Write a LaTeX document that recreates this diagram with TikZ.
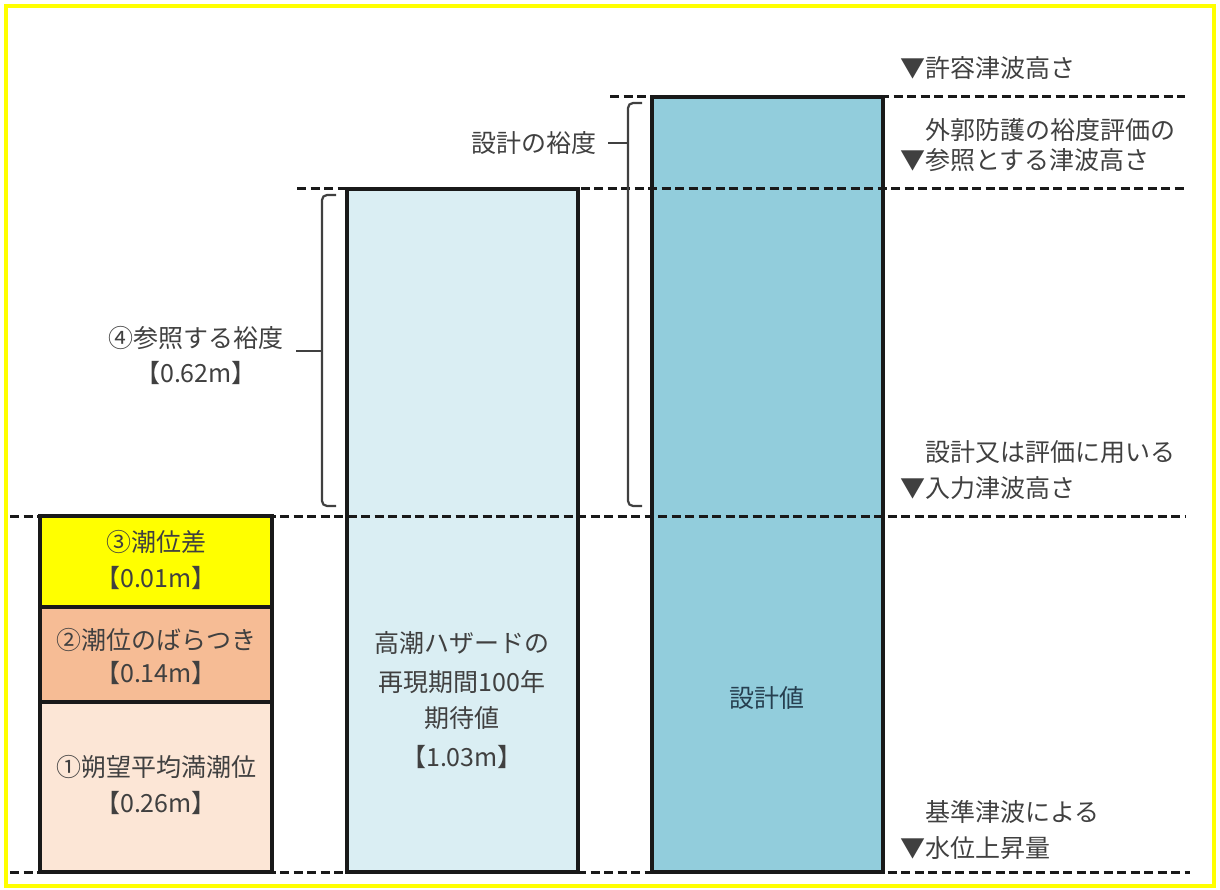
\documentclass[tikz,border=0pt]{standalone}
\usepackage{fontspec}
\newfontfamily\jpfont{Noto Sans CJK JP}
\usetikzlibrary{calc}

\definecolor{frameyellow}{HTML}{FFFF00}
\definecolor{tideyellow}{HTML}{FFFF00}
\definecolor{tideorange}{HTML}{F6BC95}
\definecolor{tidepeach}{HTML}{FCE6D6}
\definecolor{hazardblue}{HTML}{DAEEF3}
\definecolor{designblue}{HTML}{92CDDC}
\definecolor{labelgray}{HTML}{404040}
\definecolor{designtext}{HTML}{263F50}

\tikzset{
  box/.style={draw=black!90, line width=3.2pt},
  level/.style={draw=black!90, line width=3pt, dash pattern=on 9pt off 4.5pt},
  brace/.style={draw=labelgray, line width=2.2pt, rounded corners=5pt},
  lbl/.style={font=\jpfont\fontsize{25}{30}\selectfont, text=labelgray, inner sep=0pt}
}

\begin{document}
\begin{tikzpicture}[x=1pt, y=-1pt]
\useasboundingbox (0,0) rectangle (1220,890);
\draw[frameyellow, line width=4pt] (6,6) rectangle (1214,886);

% stacked tide components
\draw[box, fill=tidepeach] (40,702) rectangle (272,872);
\draw[box, fill=tideorange] (40,607) rectangle (272,702);
\draw[box, fill=tideyellow] (40,516) rectangle (272,607);

% hazard and design columns
\draw[box, fill=hazardblue] (347,189) rectangle (578,872);
\draw[box, fill=designblue] (652,97) rectangle (883,872);

% levels
\coordinate (TA) at (610,97);  \coordinate (TB) at (1185,97);
\coordinate (RA) at (297,189); \coordinate (RB) at (1185,189);
\coordinate (IA) at (10,516);  \coordinate (IB) at (1185,516);
\coordinate (BA) at (10,872);  \coordinate (BB) at (1190,872);
\draw[level] (TA) -- (TB);
\draw[level] (RA) -- (RB);
\draw[level] (IA) -- (IB);
\draw[level] (BA) -- (BB);

% braces
\draw[brace] (336,195) -- (322,195) -- (322,506) -- (336,506);
\draw[brace] (642,103) -- (628,103) -- (628,506) -- (642,506);
\coordinate (M1) at (296,351); \coordinate (M1b) at (322,351);
\coordinate (M2) at (608,143); \coordinate (M2b) at (628,143);
\draw[brace] (M1) -- (M1b);
\draw[brace] (M2) -- (M2b);

\node[lbl] (refm) at (196,338) {④参照する裕度};
\node[lbl] (refv) at (196,373) {【0.62m】};
\node[lbl, anchor=east] (desm) at (597,143) {設計の裕度};

% box texts
\node[lbl] (tide3) at (156,542) {③潮位差};
\node[lbl] (tide3v) at (156,578) {【0.01m】};
\node[lbl] (tide2) at (156,640) {②潮位のばらつき};
\node[lbl] (tide2v) at (156,673) {【0.14m】};
\node[lbl] (tide1) at (156,767) {①朔望平均満潮位};
\node[lbl] (tide1v) at (156,803) {【0.26m】};

\node[lbl] (haz1) at (462,643) {高潮ハザードの};
\node[lbl] (haz2) at (462,682) {再現期間100年};
\node[lbl] (haz3) at (462,718) {期待値};
\node[lbl] (haz4) at (462,757) {【1.03m】};

\node[lbl, text=designtext] (des) at (767,698) {設計値};

% level labels
\node[lbl, anchor=west] (allow) at (900,68) {▼許容津波高さ};
\node[lbl, anchor=west] (ref1) at (900,130) {\phantom{▼}外郭防護の裕度評価の};
\node[lbl, anchor=west] (ref2) at (900,160) {▼参照とする津波高さ};
\node[lbl, anchor=west] (inp1) at (900,452) {\phantom{▼}設計又は評価に用いる};
\node[lbl, anchor=west] (inp2) at (900,488) {▼入力津波高さ};
\node[lbl, anchor=west] (rise1) at (900,812) {\phantom{▼}基準津波による};
\node[lbl, anchor=west] (rise2) at (900,848) {▼水位上昇量};

\end{tikzpicture}
\end{document}
